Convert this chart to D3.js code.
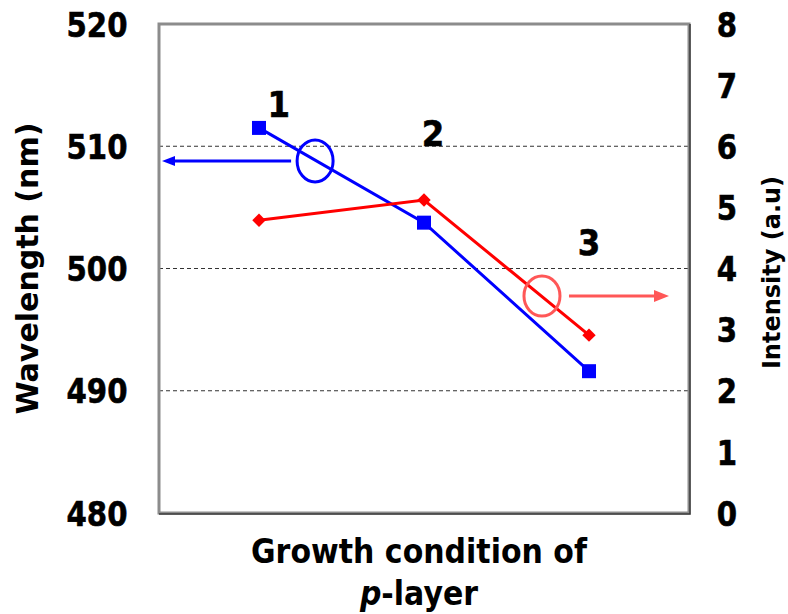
<!DOCTYPE html>
<html>
<head>
<meta charset="utf-8">
<script src="https://cdn.jsdelivr.net/npm/d3@7"></script>
<style>
  html, body { margin: 0; padding: 0; background: #fff; }
  svg { display: block; }
  text { font-family: "DejaVu Sans", Verdana, sans-serif; font-weight: bold; fill: #000; }
</style>
</head>
<body>
<svg id="chart" width="788" height="614"></svg>
<script>
// Growth conditions of the p-layer (samples 1, 2, 3)
const conditions = ["1", "2", "3"];
// Peak emission wavelength (nm), left axis
const wavelength = [511.5, 503.75, 491.6];
// Emission intensity (a.u), right axis
const intensity = [4.79, 5.12, 2.91];
// Axis ticks
const wavelengthTicks = [480, 490, 500, 510, 520];
const intensityTicks = [0, 1, 2, 3, 4, 5, 6, 7, 8];
const gridTicks = [490, 500, 510];

const svg = d3.select("#chart");
const margin = { left: 159, right: 99, top: 24, bottom: 101 };
const W = 788, H = 614;
const x0 = margin.left, x1 = W - margin.right;
const y0 = margin.top, y1 = H - margin.bottom;

const x = d3.scalePoint().domain(conditions).range([x0, x1]).padding(0.606);
const yL = d3.scaleLinear().domain([480, 520]).range([y1, y0]);
const yR = d3.scaleLinear().domain([0, 8]).range([y1, y0]);

// fractional position between categories (for annotations)
const xAt = t => x(conditions[0]) + t * x.step();

// dashed grid lines
svg.append("g").selectAll("line").data(gridTicks).join("line")
  .attr("x1", x0).attr("x2", x1)
  .attr("y1", d => yL(d)).attr("y2", d => yL(d))
  .attr("stroke", "#333").attr("stroke-width", 1.2)
  .attr("stroke-dasharray", "4,3");

// plot frame
svg.append("rect")
  .attr("x", x0).attr("y", y0).attr("width", x1 - x0).attr("height", y1 - y0)
  .attr("fill", "none").attr("stroke", "#8c8c8c").attr("stroke-width", 3);
svg.append("path")
  .attr("d", `M${x1 + 1},${y0} L${x1 + 1},${y1 + 1} L${x0},${y1 + 1}`)
  .attr("fill", "none").attr("stroke", "#3a3a3a").attr("stroke-width", 1.5);

// axis tick labels via d3 axes (no domain/ticks lines)
function tickText(g) {
  g.select(".domain").remove();
  g.selectAll(".tick line").remove();
  g.selectAll(".tick text")
    .attr("font-family", "DejaVu Sans, Verdana, sans-serif")
    .attr("font-weight", "bold")
    .attr("font-size", 34)
    .attr("fill", "#000")
    .attr("stroke", "#000").attr("stroke-width", 0.6)
    .attr("text-anchor", "middle").attr("x", 0).attr("dy", "0.36em")
    .attr("transform", "scale(0.86,1)");
}
svg.append("g")
  .attr("transform", `translate(97,0)`)
  .call(d3.axisLeft(yL).tickValues(wavelengthTicks).tickSize(0).tickPadding(0).tickFormat(d3.format("d")))
  .call(tickText);

svg.append("g")
  .attr("transform", `translate(727,0)`)
  .call(d3.axisRight(yR).tickValues(intensityTicks).tickSize(0).tickPadding(0).tickFormat(d3.format("d")))
  .call(tickText);

// axis titles
svg.append("text")
  .attr("transform", `translate(38,${(y0 + y1) / 2}) rotate(-90)`)
  .attr("text-anchor", "middle").attr("font-size", 30)
  .text("Wavelength (nm)");
svg.append("text")
  .attr("transform", `translate(780,${(y0 + y1) / 2 + 4}) rotate(-90)`)
  .attr("text-anchor", "middle").attr("font-size", 24)
  .text("Intensity (a.u)");

const xt = svg.append("text").attr("text-anchor", "middle").attr("font-size", 30)
  .attr("transform", "translate(419,563) scale(1,1.12)");
xt.text("Growth condition of");
const xt2 = svg.append("text").attr("text-anchor", "middle").attr("font-size", 30)
  .attr("transform", "translate(419,605) scale(1,1.12)");
xt2.append("tspan").attr("font-style", "italic").text("p");
xt2.append("tspan").text("-layer");

// series lines
const blue = "#0000ff", red = "#ff0000";
const lineL = d3.line().x((d, i) => x(conditions[i])).y(d => yL(d));
const lineR = d3.line().x((d, i) => x(conditions[i])).y(d => yR(d));

svg.append("path").datum(wavelength).attr("d", lineL)
  .attr("fill", "none").attr("stroke", blue).attr("stroke-width", 3);
svg.append("path").datum(intensity).attr("d", lineR)
  .attr("fill", "none").attr("stroke", red).attr("stroke-width", 3);

// markers: blue squares, red diamonds
svg.append("g").selectAll("rect").data(wavelength).join("rect")
  .attr("x", (d, i) => x(conditions[i]) - 7).attr("y", d => yL(d) - 7)
  .attr("width", 14).attr("height", 14).attr("fill", blue);
svg.append("g").selectAll("path").data(intensity).join("path")
  .attr("d", d3.symbol(d3.symbolSquare, 90))
  .attr("transform", (d, i) => `translate(${x(conditions[i])},${yR(d)}) rotate(45)`)
  .attr("fill", red);

// condition numbers
const numLabels = [
  { t: "1", dx: 0.12, v: 512.4 },
  { t: "2", dx: 1.055, v: 510.0 },
  { t: "3", dx: 2.0, v: 501.1 }
];
svg.append("g").selectAll("text").data(numLabels).join("text")
  .attr("text-anchor", "middle").attr("font-size", 36)
  .attr("stroke", "#000").attr("stroke-width", 0.6)
  .attr("transform", d => `translate(${xAt(d.dx)},${yL(d.v)}) scale(0.9,1)`)
  .text(d => d.t);

// annotation: blue ellipse and arrow pointing to left axis
const bx = xAt(0.34), by = yL(508.8);
svg.append("ellipse").attr("cx", bx).attr("cy", by).attr("rx", 18).attr("ry", 21)
  .attr("fill", "none").attr("stroke", blue).attr("stroke-width", 3);
svg.append("line").attr("x1", bx - 24).attr("x2", x0 + 12).attr("y1", by).attr("y2", by)
  .attr("stroke", blue).attr("stroke-width", 3);
svg.append("path")
  .attr("d", `M${x0 + 3},${by} L${x0 + 16},${by - 5} L${x0 + 16},${by + 5} Z`)
  .attr("fill", blue);

// annotation: red ellipse and arrow pointing to right axis
const pink = "#ff5757";
const rx = xAt(1.715), ry = yR(3.55);
svg.append("ellipse").attr("cx", rx).attr("cy", ry).attr("rx", 18).attr("ry", 20)
  .attr("fill", "none").attr("stroke", pink).attr("stroke-width", 3);
svg.append("line").attr("x1", rx + 27).attr("x2", rx + 114).attr("y1", ry).attr("y2", ry)
  .attr("stroke", pink).attr("stroke-width", 3);
svg.append("path")
  .attr("d", `M${rx + 127},${ry} L${rx + 112},${ry - 6} L${rx + 112},${ry + 6} Z`)
  .attr("fill", pink);
</script>
</body>
</html>
